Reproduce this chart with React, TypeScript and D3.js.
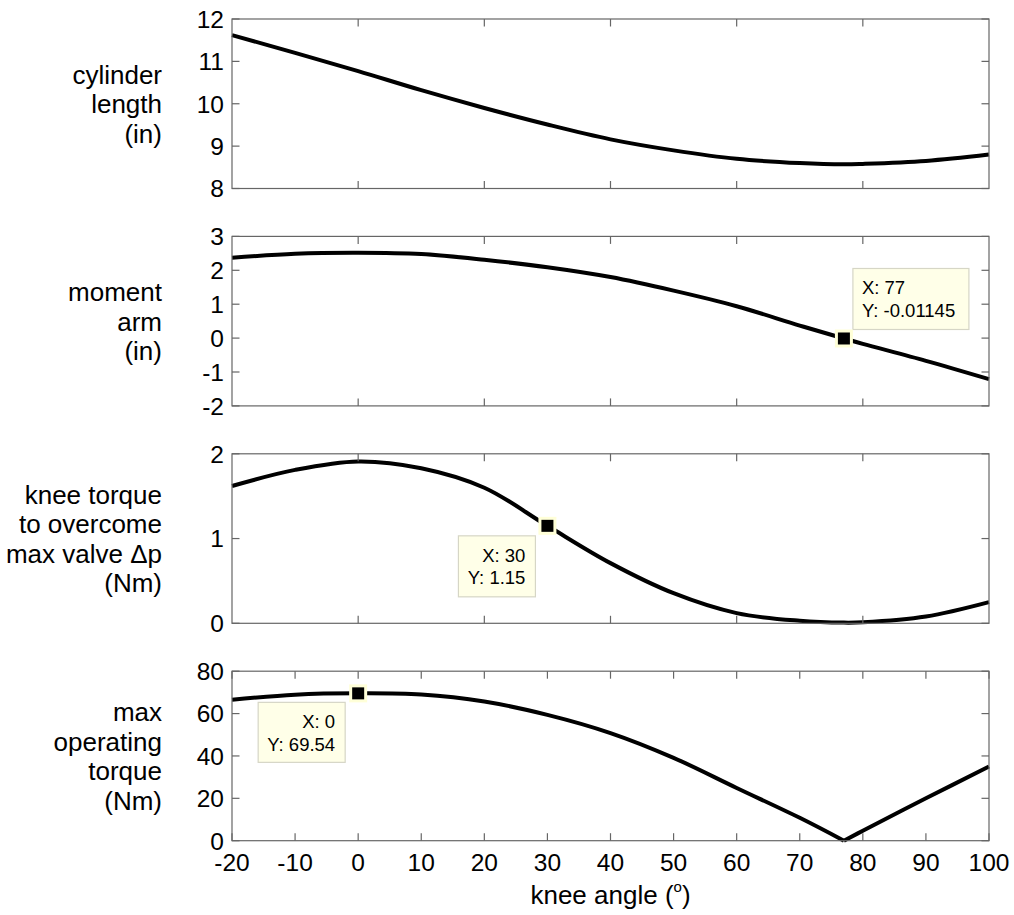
import React from "react";
import * as d3 from "d3";

const angles = [-20, -10, 0, 10, 20, 30, 40, 50, 60, 70, 77, 80, 90, 100];
const cylinderLength = [11.62, 11.2, 10.77, 10.32, 9.9, 9.51, 9.16, 8.9, 8.7, 8.6, 8.57, 8.58, 8.65, 8.8];
const momentArm = [2.37, 2.49, 2.52, 2.48, 2.31, 2.09, 1.8, 1.4, 0.94, 0.37, -0.01145, -0.17, -0.67, -1.21];
const valveTorque = [1.62, 1.81, 1.91, 1.83, 1.6, 1.15, 0.71, 0.355, 0.12, 0.03, 0.008, 0.012, 0.08, 0.25];
const operatingTorque = [66.5, 68.9, 69.54, 69.0, 65.7, 59.4, 50.8, 39.1, 24.9, 10.8, 0, 4.7, 20.0, 35.0];

const xTicksFull = [-20, -10, 0, 10, 20, 30, 40, 50, 60, 70, 80, 90, 100];
const xTicksSparse = [0, 20, 40, 60, 80];

const panelLabels = [
  ["cylinder", "length", "(in)"],
  ["moment", "arm", "(in)"],
  ["knee torque", "to overcome", "max valve \u0394p", "(Nm)"],
  ["max", "operating", "torque", "(Nm)"],
];
const panelDomains: [number, number][] = [[8, 12], [-2, 3], [0, 2], [0, 80]];
const panelYTicks = [
  [8, 9, 10, 11, 12],
  [-2, -1, 0, 1, 2, 3],
  [0, 1, 2],
  [0, 20, 40, 60, 80],
];
const panelSeries = [cylinderLength, momentArm, valveTorque, operatingTorque];

const tipAngles = [77, 30, 0];
const tipValues = [-0.01145, 1.15, 69.54];
const tipPanels = [1, 2, 3];
const tipTexts = [["X: 77", "Y: -0.01145"], ["X: 30", "Y: 1.15"], ["X: 0", "Y: 69.54"]];

const W = 1014;
const H = 915;
const LEFT = 232;
const RIGHT = 989;
const TOP0 = 19;
const STEP = 217.4;
const PH = 169.5;
const TICK = 7.5;
const AXIS = "#666";
const FONT = "'Liberation Sans', Arial, Helvetica, sans-serif";

export default function App() {
  const x = d3.scaleLinear().domain([-20, 100]).range([LEFT, RIGHT]);

  const panels = panelSeries.map((series, i) => {
    const top = TOP0 + i * STEP;
    const bottom = top + PH;
    const y = d3.scaleLinear().domain(panelDomains[i]).range([bottom, top]);
    const pts: [number, number][] = angles.map((a, k) => [a, series[k]]);
    const line = d3
      .line<[number, number]>()
      .x((d) => x(d[0]))
      .y((d) => y(d[1]))
      .curve(d3.curveCatmullRom.alpha(0.5));
    let paths: string[];
    if (i === 3) {
      const split = angles.indexOf(77);
      paths = [line(pts.slice(0, split + 1)) || "", line(pts.slice(split)) || ""];
    } else {
      paths = [line(pts) || ""];
    }
    const xt = i === 3 ? xTicksFull : xTicksSparse;
    const center = (top + bottom) / 2;
    const labels = panelLabels[i];
    const lh = 29.5;
    return (
      <g key={i}>
        {paths.map((p, k) => (
          <path key={k} d={p} fill="none" stroke="#000" strokeWidth={4} strokeLinejoin="round" />
        ))}
        <rect x={LEFT} y={top} width={RIGHT - LEFT} height={PH} fill="none" stroke={AXIS} strokeWidth={1.2} />
        {xt.map((t) => (
          <g key={"xt" + t}>
            <line x1={x(t)} x2={x(t)} y1={bottom} y2={bottom - TICK} stroke={AXIS} strokeWidth={1.2} />
            <line x1={x(t)} x2={x(t)} y1={top} y2={top + TICK} stroke={AXIS} strokeWidth={1.2} />
          </g>
        ))}
        {panelYTicks[i].map((t) => (
          <g key={"yt" + t}>
            <line x1={LEFT} x2={LEFT + TICK} y1={y(t)} y2={y(t)} stroke={AXIS} strokeWidth={1.2} />
            <line x1={RIGHT} x2={RIGHT - TICK} y1={y(t)} y2={y(t)} stroke={AXIS} strokeWidth={1.2} />
            <text x={224} y={y(t)} dy="0.36em" textAnchor="end" fontSize={24.5} fontFamily={FONT} fill="#000">
              {t}
            </text>
          </g>
        ))}
        {i === 3 &&
          xTicksFull.map((t) => (
            <text key={"xl" + t} x={x(t)} y={871} textAnchor="middle" fontSize={24.5} fontFamily={FONT} fill="#000">
              {t}
            </text>
          ))}
        {labels.map((s, k) => (
          <text
            key={"lb" + k}
            x={162}
            y={center + (k - (labels.length - 1) / 2) * lh}
            dy="0.36em"
            textAnchor="end"
            fontSize={26}
            fontFamily={FONT}
            fill="#000"
          >
            {s}
          </text>
        ))}
      </g>
    );
  });

  const tips = tipAngles.map((a, k) => {
    const i = tipPanels[k];
    const top = TOP0 + i * STEP;
    const y = d3.scaleLinear().domain(panelDomains[i]).range([top + PH, top]);
    const mx = x(a);
    const my = y(tipValues[k]);
    let bx: number, by: number, bw: number, bh: number, tx: number, anchor: string;
    if (k === 0) {
      bw = 116; bh = 61; bx = mx + 9; by = my - 9 - bh; tx = bx + 9; anchor = "start";
    } else if (k === 1) {
      bw = 77; bh = 61; bx = mx - 12 - bw; by = my + 10; tx = bx + bw - 10; anchor = "end";
    } else {
      bw = 87; bh = 60; bx = mx - 13 - bw; by = my + 9; tx = bx + bw - 10; anchor = "end";
    }
    return (
      <g key={"tip" + k}>
        <rect x={bx} y={by} width={bw} height={bh} fill="#ffffe8" stroke="#d6d6c6" strokeWidth={1.2} />
        {tipTexts[k].map((s, j) => (
          <text key={j} x={tx} y={by + 26 + j * 22.5} textAnchor={anchor} fontSize={18.5} fontFamily={FONT} fill="#000">
            {s}
          </text>
        ))}
        <rect x={mx - 7.5} y={my - 7.5} width={15} height={15} fill="#000" stroke="#ffffd8" strokeWidth={3} />
      </g>
    );
  });

  return (
    <div style={{ position: "absolute", left: 0, top: 0 }}>
      <svg width={W} height={H} style={{ display: "block", background: "#fff" }}>
        <rect x={0} y={0} width={W} height={H} fill="#fff" />
        {panels}
        {tips}
        <text x={(LEFT + RIGHT) / 2} y={904} textAnchor="middle" fontSize={26} fontFamily={FONT} fill="#000">
          knee angle (
          <tspan fontSize={15} dy={-12}>o</tspan>
          <tspan dy={12}>)</tspan>
        </text>
      </svg>
    </div>
  );
}
